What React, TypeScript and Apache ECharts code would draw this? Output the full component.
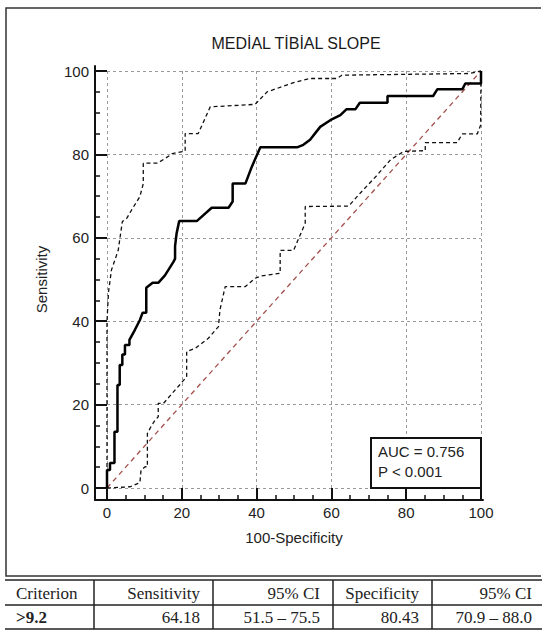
import React, { useEffect, useRef } from "react";
import * as echarts from "echarts";

// ---------- data ----------
const titleText = "MEDİAL TİBİAL SLOPE";
const xAxisName = "100-Specificity";
const yAxisName = "Sensitivity";

const majorTicks = [0, 20, 40, 60, 80, 100];
const minorTicks = [5, 10, 15, 25, 30, 35, 45, 50, 55, 65, 70, 75, 85, 90, 95];

const rocPoints: number[][] = [
  [0, 0], [0, 4.3], [0.8, 4.3], [0.8, 6], [2, 6], [2, 13.5], [2.8, 13.5], [2.8, 24.7],
  [3.4, 24.7], [3.4, 29.5], [4.1, 29.5], [4.1, 32], [4.8, 32], [4.8, 34.3], [6, 34.3],
  [6, 35.5], [7.5, 38], [8.8, 40.3], [9.5, 42], [10.5, 42], [10.5, 48], [12.2, 49.2],
  [13.7, 49.2], [15.5, 51], [17.8, 54.3], [18.2, 55], [18.2, 58], [18.6, 61], [19.3, 64],
  [24, 64], [28, 67.2], [32.5, 67.2], [33.6, 68.7], [33.6, 73], [37, 73], [38.7, 77],
  [41, 81.7], [50.8, 81.7], [52.5, 82.3], [54.3, 83.5], [57, 86.6], [59.7, 88.2],
  [62.4, 89.4], [64, 90.8], [66.4, 90.8], [67.6, 92.4], [75, 92.4], [75, 94], [87.2, 94],
  [88.3, 95.6], [95, 95.6], [95.8, 97], [100, 97], [100, 100],
];

const upperCI: number[][] = [
  [0, 0], [0, 40], [0.4, 47], [1.2, 52.3], [3, 57], [4.1, 63.9], [5.3, 64.7], [6.6, 66.7],
  [8.8, 69.9], [9.7, 73], [9.7, 77.9], [13.5, 77.9], [15.5, 79], [17.5, 80.2], [20.9, 80.8],
  [20.9, 85], [24.4, 85], [27.6, 91.4], [39.6, 92], [42.8, 95], [45.4, 95.8], [49.9, 97.2],
  [54.3, 98.2], [61.5, 98.2], [62.8, 99], [97, 99.4], [100, 100],
];

const lowerCI: number[][] = [
  [0, 0], [6.2, 0.3], [8.8, 1.3], [9.1, 4.3], [10.2, 5.1], [10.8, 5.1], [10.8, 13.1],
  [12, 15.1], [12.9, 16.3], [13.7, 17.1], [13.7, 20.3], [15.1, 20.3], [19.4, 24.7],
  [21.3, 26.7], [21.3, 32.7], [23.6, 33.5], [27.1, 35.9], [29.8, 38.7], [30.2, 42.7],
  [31.6, 48.3], [37, 48.3], [39.6, 50.3], [41, 50.8], [46.3, 51.5], [46.3, 57], [49.9, 57],
  [53, 63.5], [53, 67.5], [64.6, 67.6], [67.7, 70.7], [72.2, 75], [75.8, 78.7], [79.3, 80.7],
  [85.1, 80.9], [85.1, 82.8], [93.6, 82.8], [95, 84.9], [99, 84.9], [99.9, 87], [100, 100],
];

const diagonal: number[][] = [[0, 0], [100, 100]];

const aucLines = ["AUC = 0.756", "P < 0.001"];

const tableHeader = ["Criterion", "Sensitivity", "95% CI", "Specificity", "95% CI"];
const tableRow = [">9.2", "64.18", "51.5 – 75.5", "80.43", "70.9 – 88.0"];

// ---------- layout ----------
const W = 550;
const H = 641;
const G = { left: 107, top: 71, right: 69, bottom: 153 };
const FRAME = { left: 95, top: 66, right: 67, bottom: 141 };
const SANS = "'Liberation Sans', Arial, sans-serif";
const SERIF = "'Liberation Serif', 'Times New Roman', serif";

const tableLayout = {
  x0: 5,
  x1: 542,
  yTop: 580,
  yMid: 605,
  yBot: 629,
  seps: [94, 213, 333, 432],
  textX: [16, 200, 320, 419, 532],
  align: ["left", "right", "right", "right", "right"],
  rowY: [593, 617],
};

export default function App() {
  const ref = useRef<HTMLDivElement>(null);

  useEffect(() => {
    if (!ref.current) return;
    const chart = echarts.init(ref.current, undefined, { renderer: "svg" });

    const gridW = W - G.left - G.right;
    const gridH = H - G.top - G.bottom;
    const pxX = gridW / 100;
    const pxY = gridH / 100;
    // frame axes extents in data units, so that their ticks align with the data grid
    const fxMin = -(G.left - FRAME.left) / pxX;
    const fxMax = 100 + (G.right - FRAME.right) / pxX;
    const fyMin = -(G.bottom - FRAME.bottom) / pxY;
    const fyMax = 100 + (G.top - FRAME.top) / pxY;

    const boxW = 110;
    const boxH = 50;
    const boxX = G.left + gridW - boxW;
    const boxY = G.top + gridH - boxH;

    const graphics: any[] = [];
    graphics.push({
      type: "polyline",
      shape: { points: [[541, 8], [6, 8], [6, 576], [541, 576]] },
      style: { stroke: "#333", lineWidth: 1.5, fill: null },
      silent: true,
    });
    graphics.push({
      type: "rect",
      shape: { x: boxX, y: boxY, width: boxW, height: boxH },
      style: { fill: "#fff", stroke: "#111", lineWidth: 2 },
      z: 10,
    });
    aucLines.forEach((t, i) => {
      graphics.push({
        type: "text",
        x: boxX + 7,
        y: boxY + 13 + i * 20,
        style: {
          text: t,
          font: `15px ${SANS}`,
          fill: "#222",
          textAlign: "left",
          textVerticalAlign: "middle",
        },
        z: 11,
      });
    });
    [tableLayout.yTop, tableLayout.yMid, tableLayout.yBot].forEach((y) => {
      graphics.push({
        type: "line",
        shape: { x1: tableLayout.x0, y1: y, x2: tableLayout.x1, y2: y },
        style: { stroke: "#222", lineWidth: 1.5 },
      });
    });
    tableLayout.seps.forEach((x) => {
      graphics.push({
        type: "line",
        shape: { x1: x, y1: tableLayout.yTop, x2: x, y2: tableLayout.yBot },
        style: { stroke: "#222", lineWidth: 1.5 },
      });
    });
    [tableHeader, tableRow].forEach((row, r) => {
      row.forEach((t, c) => {
        graphics.push({
          type: "text",
          x: tableLayout.textX[c],
          y: tableLayout.rowY[r],
          style: {
            text: t,
            font: `${r === 1 && c === 0 ? "bold " : ""}17px ${SERIF}`,
            fill: "#222",
            textAlign: tableLayout.align[c],
            textVerticalAlign: "middle",
          },
        });
      });
    });

    const labelStyle = { color: "#222", fontSize: 15, fontFamily: SANS };

    // data grid axes: split lines + axis names only
    const dataAxis = {
      type: "value",
      gridIndex: 0,
      min: 0,
      max: 100,
      interval: 20,
      axisLine: { show: false, onZero: false },
      axisTick: { show: false },
      axisLabel: { show: false },
      splitLine: { show: true, lineStyle: { color: "#9a9a9a", width: 1, type: [3, 3] } },
      nameLocation: "middle",
      nameTextStyle: { color: "#222", fontSize: 15, fontFamily: SANS },
    };

    const frameX = {
      type: "value",
      gridIndex: 1,
      min: fxMin,
      max: fxMax,
      position: "bottom",
      splitLine: { show: false },
    };
    const frameY = {
      type: "value",
      gridIndex: 1,
      min: fyMin,
      max: fyMax,
      position: "left",
      splitLine: { show: false },
    };

    chart.setOption({
      animation: false,
      backgroundColor: "#fff",
      title: {
        text: titleText,
        left: 296,
        top: 35,
        padding: 0,
        textAlign: "center",
        textStyle: { color: "#1a1a1a", fontSize: 16, fontWeight: "normal", fontFamily: SANS },
      },
      grid: [
        { left: G.left, top: G.top, right: G.right, bottom: G.bottom, containLabel: false },
        {
          left: FRAME.left,
          top: FRAME.top,
          right: FRAME.right,
          bottom: FRAME.bottom,
          containLabel: false,
        },
      ],
      xAxis: [
        { ...dataAxis, position: "bottom", name: xAxisName, nameGap: 42 },
        {
          ...frameX,
          axisLine: { show: true, onZero: false, lineStyle: { color: "#111", width: 2 } },
          axisTick: {
            show: true,
            inside: true,
            length: 12,
            customValues: majorTicks,
            lineStyle: { color: "#111", width: 2 },
          },
          axisLabel: { ...labelStyle, margin: 5, customValues: majorTicks },
        },
        {
          ...frameX,
          axisLine: { show: false, onZero: false },
          axisTick: {
            show: true,
            inside: true,
            length: 5,
            customValues: minorTicks,
            lineStyle: { color: "#111", width: 1.5 },
          },
          axisLabel: { show: false },
        },
      ],
      yAxis: [
        { ...dataAxis, position: "left", name: yAxisName, nameGap: 58, nameRotate: 90 },
        {
          ...frameY,
          axisLine: { show: true, onZero: false, lineStyle: { color: "#111", width: 2 } },
          axisTick: {
            show: true,
            inside: true,
            length: 12,
            customValues: majorTicks,
            lineStyle: { color: "#111", width: 2 },
          },
          axisLabel: { ...labelStyle, margin: 6, customValues: majorTicks },
        },
        {
          ...frameY,
          axisLine: { show: false, onZero: false },
          axisTick: {
            show: true,
            inside: true,
            length: 5,
            customValues: minorTicks,
            lineStyle: { color: "#111", width: 1.5 },
          },
          axisLabel: { show: false },
        },
      ],
      series: [
        {
          name: "diagonal",
          type: "line",
          data: diagonal,
          showSymbol: false,
          symbol: "none",
          clip: false,
          lineStyle: { color: "#a3504c", width: 1.3, type: [5, 4] },
          z: 2,
        },
        {
          name: "upper",
          type: "line",
          data: upperCI,
          showSymbol: false,
          symbol: "none",
          clip: false,
          lineStyle: { color: "#111", width: 1.3, type: [4, 3] },
          z: 3,
        },
        {
          name: "lower",
          type: "line",
          data: lowerCI,
          showSymbol: false,
          symbol: "none",
          clip: false,
          lineStyle: { color: "#111", width: 1.3, type: [4, 3] },
          z: 3,
        },
        {
          name: "roc",
          type: "line",
          data: rocPoints,
          showSymbol: false,
          symbol: "none",
          clip: false,
          lineStyle: { color: "#000", width: 2.5 },
          z: 4,
        },
      ],
      graphic: graphics,
    });

    return () => chart.dispose();
  }, []);

  return (
    <div
      ref={ref}
      style={{ position: "fixed", left: 0, top: 0, width: W, height: H, background: "#fff" }}
    />
  );
}
